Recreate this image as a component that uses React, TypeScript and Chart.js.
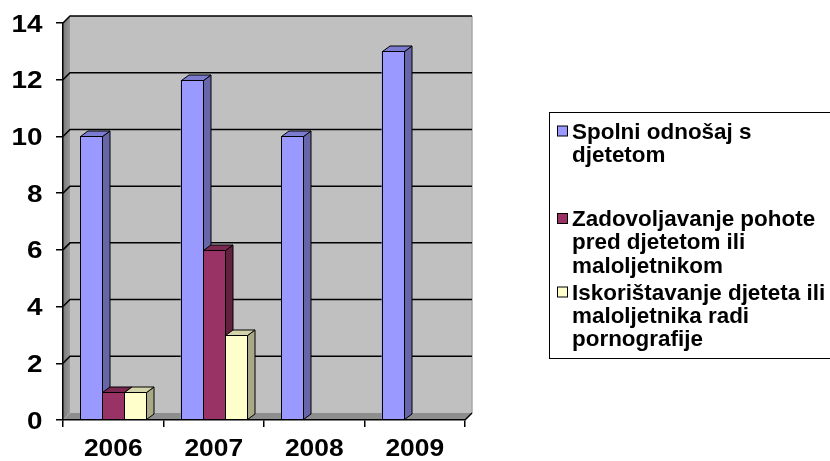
import React, { useEffect, useRef } from "react";
import { Chart, registerables } from "chart.js";

Chart.register(...registerables);

const categories = ["2006", "2007", "2008", "2009"];
const spolniValues = [10, 12, 10, 13];
const zadovoljavanjeValues = [1, 6, 0, 0];
const iskoristavanjeValues = [1, 3, 0, 0];
const yTicks = [0, 2, 4, 6, 8, 10, 12, 14];
const legendLines = [
  ["Spolni odnošaj s", "djetetom"],
  ["Zadovoljavanje pohote", "pred djetetom ili", "maloljetnikom"],
  ["Iskorištavanje djeteta ili", "maloljetnika radi", "pornografije"],
];

const FONT = "'Liberation Sans', Arial, Helvetica, sans-serif";
const fronts = ["#9999FF", "#993366", "#FFFFCC"];
const sides = ["#6666A8", "#64203F", "#A9A987"];
const tops = ["#7B7BD0", "#7A2850", "#D4D4AA"];

const WALL_D = 7;
const BAR_DX = 7.5;
const BAR_DY = 5.5;

function stretchedText(ctx: any, text: string, x: number, y: number, sx: number, align: string) {
  ctx.save();
  ctx.translate(x, y);
  ctx.scale(sx, 1);
  ctx.textAlign = align;
  ctx.fillText(text, 0, 0);
  ctx.restore();
}

const wallPlugin = {
  id: "wall3d",
  beforeDraw(chart: any) {
    const ctx = chart.ctx;
    const { left, right, top, bottom } = chart.chartArea;
    const ys = chart.scales.y;
    const D = WALL_D;
    ctx.save();
    ctx.fillStyle = "#C0C0C0";
    ctx.fillRect(left + D, top - D, right - left, bottom - top);
    const g = ctx.createLinearGradient(left, 0, left + D, 0);
    g.addColorStop(0, "#7A7A7A");
    g.addColorStop(1, "#999999");
    ctx.fillStyle = g;
    ctx.beginPath();
    ctx.moveTo(left, top);
    ctx.lineTo(left + D, top - D);
    ctx.lineTo(left + D, bottom - D);
    ctx.lineTo(left, bottom);
    ctx.closePath();
    ctx.fill();
    ctx.fillStyle = "#8E8E8E";
    ctx.beginPath();
    ctx.moveTo(left, bottom);
    ctx.lineTo(left + D, bottom - D);
    ctx.lineTo(right + D, bottom - D);
    ctx.lineTo(right, bottom);
    ctx.closePath();
    ctx.fill();
    ctx.strokeStyle = "#A8A8A8";
    ctx.lineWidth = 1.5;
    ctx.beginPath();
    ctx.moveTo(right + D, top - D);
    ctx.lineTo(right + D, bottom - D);
    ctx.stroke();
    ctx.strokeStyle = "#000";
    ctx.lineWidth = 1.5;
    yTicks.forEach((v) => {
      if (v === 0) return;
      const yy = ys.getPixelForValue(v);
      ctx.beginPath();
      ctx.moveTo(left, yy);
      ctx.lineTo(left + D, yy - D);
      ctx.lineTo(right + D, yy - D);
      ctx.stroke();
    });
    ctx.beginPath();
    ctx.moveTo(right, bottom);
    ctx.lineTo(right + D, bottom - D);
    ctx.stroke();
    ctx.restore();
  },
};

const bars3dPlugin = {
  id: "bars3d",
  afterDatasetsDraw(chart: any) {
    const ctx = chart.ctx;
    ctx.save();
    ctx.lineWidth = 1;
    ctx.strokeStyle = "#000";
    const n = chart.data.labels.length;
    for (let i = 0; i < n; i++) {
      chart.data.datasets.forEach((ds: any, d: number) => {
        const v = ds.data[i];
        if (!v) return;
        const el = chart.getDatasetMeta(d).data[i];
        const { x, y, base, width } = el.getProps(["x", "y", "base", "width"], true);
        const l = Math.round(x - width / 2) + 0.5;
        const r = Math.round(x + width / 2) + 0.5;
        const t = Math.round(y) + 0.5;
        const b = Math.round(base) + 0.5;
        ctx.fillStyle = fronts[d];
        ctx.fillRect(l, t, r - l, b - t);
        ctx.strokeRect(l, t, r - l, b - t);
        ctx.fillStyle = sides[d];
        ctx.beginPath();
        ctx.moveTo(r, t);
        ctx.lineTo(r + BAR_DX, t - BAR_DY);
        ctx.lineTo(r + BAR_DX, b - BAR_DY);
        ctx.lineTo(r, b);
        ctx.closePath();
        ctx.fill();
        ctx.stroke();
        ctx.fillStyle = tops[d];
        ctx.beginPath();
        ctx.moveTo(l, t);
        ctx.lineTo(l + BAR_DX, t - BAR_DY);
        ctx.lineTo(r + BAR_DX, t - BAR_DY);
        ctx.lineTo(r, t);
        ctx.closePath();
        ctx.fill();
        ctx.stroke();
      });
    }
    ctx.restore();
  },
};

const labelsPlugin = {
  id: "axisLabels",
  afterDraw(chart: any) {
    const ctx = chart.ctx;
    const xs = chart.scales.x;
    const ys = chart.scales.y;
    ctx.save();
    ctx.fillStyle = "#000";
    ctx.textBaseline = "alphabetic";
    ctx.font = `bold 24px ${FONT}`;
    yTicks.forEach((v) => {
      const yy = ys.getPixelForValue(v);
      stretchedText(ctx, String(v), 42.5, yy + 8.5, 1.16, "right");
    });
    ctx.font = `bold 24px ${FONT}`;
    categories.forEach((c, i) => {
      const xx = xs.getPixelForValue(i);
      stretchedText(ctx, c, xx, 456, 1.1, "center");
    });
    ctx.restore();
  },
};

const legendPlugin = {
  id: "customLegend",
  afterDraw(chart: any) {
    const ctx = chart.ctx;
    ctx.save();
    ctx.strokeStyle = "#000";
    ctx.lineWidth = 1;
    ctx.strokeRect(549.5, 112.5, 300, 246);
    const firstBaselines = [138.5, 226, 299.5];
    const lineH = 23.4;
    ctx.font = `bold 22px ${FONT}`;
    ctx.textBaseline = "alphabetic";
    legendLines.forEach((lines, k) => {
      const bl = firstBaselines[k];
      ctx.fillStyle = fronts[k];
      ctx.fillRect(557.5, bl - 12.5, 10, 10);
      ctx.strokeStyle = "#000";
      ctx.strokeRect(557.5, bl - 12.5, 10, 10);
      ctx.fillStyle = "#000";
      lines.forEach((line, j) => {
        stretchedText(ctx, line, 572, bl + j * lineH, 1.02, "left");
      });
    });
    ctx.restore();
  },
};

export default function App() {
  const ref = useRef<HTMLCanvasElement | null>(null);
  useEffect(() => {
    document.body.style.margin = "0";
    const canvas = ref.current;
    if (!canvas) return;
    const chart = new Chart(canvas, {
      type: "bar",
      data: {
        labels: categories,
        datasets: [
          { label: legendLines[0].join(" "), data: spolniValues, backgroundColor: fronts[0] },
          { label: legendLines[1].join(" "), data: zadovoljavanjeValues, backgroundColor: fronts[1] },
          { label: legendLines[2].join(" "), data: iskoristavanjeValues, backgroundColor: fronts[2] },
        ],
      },
      options: {
        responsive: false,
        animation: false,
        devicePixelRatio: 1,
        layout: { padding: { top: 23, right: 365, left: 0, bottom: 0 } },
        plugins: { legend: { display: false }, tooltip: { enabled: false } },
        datasets: { bar: { categoryPercentage: 0.66, barPercentage: 1 } },
        scales: {
          x: {
            grid: { offset: true, drawOnChartArea: false, drawTicks: true, tickLength: 7, color: "#000", lineWidth: 1.5 },
            border: { display: true, color: "#000", width: 1.5 },
            ticks: { display: false },
            afterFit: (s: any) => { s.height = 41; },
          },
          y: {
            min: 0,
            max: 14,
            afterBuildTicks: (s: any) => { s.ticks = yTicks.map((v) => ({ value: v })); },
            grid: { drawOnChartArea: false, drawTicks: true, tickLength: 7, color: "#000", lineWidth: 1.5 },
            border: { display: true, color: "#000", width: 1.5 },
            ticks: { display: false },
            afterFit: (s: any) => { s.width = 63; },
          },
        },
      } as any,
      plugins: [wallPlugin, bars3dPlugin, labelsPlugin, legendPlugin],
    });
    return () => chart.destroy();
  }, []);
  return (
    <div style={{ width: 830, height: 461, background: "#fff" }}>
      <canvas ref={ref} width={830} height={461} style={{ display: "block" }} />
    </div>
  );
}
